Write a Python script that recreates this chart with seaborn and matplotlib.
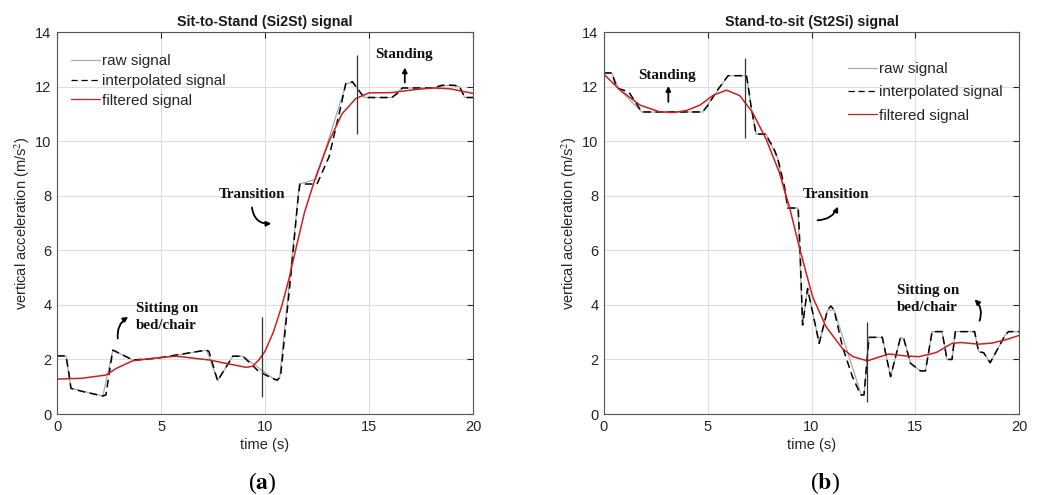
import numpy as np
import pandas as pd
import matplotlib
matplotlib.use("Agg")
import matplotlib.pyplot as plt
import seaborn as sns

# ---- (a) sit-to-stand ----
a_t_raw = [0, 0.43, 0.67, 2.2, 2.68, 3.64, 4.76, 7.2, 7.72, 8.45, 8.93, 10.5, 10.7, 11.65, 12.45,
           13.9, 14.2, 14.8, 16.1, 16.6, 18.1, 18.8, 19.35, 19.6, 20]
a_v_raw = [2.13, 2.13, 0.94, 0.66, 2.34, 1.98, 2.04, 2.34, 1.22, 2.12, 2.12, 1.24, 1.3, 8.43, 8.6,
           12.11, 12.15, 11.6, 11.6, 11.95, 11.95, 12.05, 12.0, 11.6, 11.6]

a_t_int = [0, 0.43, 0.55, 0.67, 1.2, 2.2, 2.35, 2.68, 2.8, 3.64, 4.76, 7.15, 7.3, 7.72, 8.45, 8.93,
           9.71, 10.35, 10.59, 10.75, 11.0, 11.23, 11.6, 11.68, 12.5, 13.08, 13.64, 13.88, 14.2,
           14.68, 14.9, 16.1, 16.44, 16.6, 18.1, 18.5, 19.1, 19.35, 19.6, 20]
a_v_int = [2.13, 2.13, 1.6, 0.94, 0.83, 0.66, 0.7, 2.34, 2.3, 1.98, 2.04, 2.34, 2.3, 1.22, 2.12, 2.12,
           1.55, 1.31, 1.24, 1.4, 3.3, 5.0, 8.0, 8.43, 8.43, 9.43, 11.26, 12.11, 12.18,
           11.68, 11.6, 11.6, 11.8, 11.95, 11.95, 12.05, 12.05, 12.0, 11.6, 11.6]

a_t_filt = [0, 1.2, 2.36, 2.84, 3.64, 4.7, 5.72, 7.32, 8.3, 9.09, 9.4, 9.7, 10.0, 10.4, 10.8, 11.15,
            11.45, 11.9, 12.44, 13.08, 13.7, 14.36, 15.0, 16.1, 17.3, 18.1, 18.9, 20]
a_v_filt = [1.28, 1.31, 1.43, 1.67, 1.95, 2.05, 2.12, 1.98, 1.83, 1.71, 1.75, 1.98, 2.3, 3.0, 3.95, 4.95,
            5.95, 7.4, 8.7, 10.0, 11.0, 11.56, 11.77, 11.78, 11.9, 11.95, 11.92, 11.75]

a_mark_t = [9.84, 14.44]
a_mark_lo = [0.63, 10.25]
a_mark_hi = [3.55, 13.15]

# ---- (b) stand-to-sit ----
b_t_raw = [0, 0.38, 0.7, 1.82, 4.75, 5.98, 6.87, 7.09, 7.33, 7.81, 8.37, 8.86, 9.34, 9.57, 9.81,
           10.37, 10.77, 11.09, 12.4, 12.53, 12.77, 13.41, 13.81, 14.29, 14.45, 14.77, 15.25, 15.49,
           15.81, 16.29, 16.53, 16.77, 16.93, 17.86, 18.05, 18.29, 18.61, 19.33, 19.49, 20]
b_v_raw = [12.5, 12.5, 11.93, 11.07, 11.07, 12.4, 12.4, 11.26, 10.26, 10.26, 9.37, 7.55, 7.55, 3.26, 4.6,
           2.59, 3.81, 3.81, 0.7, 0.7, 2.81, 2.81, 1.37, 2.81, 2.75, 1.86, 1.58, 1.58,
           3.02, 3.02, 2.0, 2.0, 3.02, 3.02, 2.28, 2.25, 1.88, 2.89, 3.02, 3.02]

b_t_int = [0, 0.38, 0.55, 0.7, 0.94, 1.2, 1.82, 4.75, 5.0, 5.4, 5.98, 6.87, 6.95, 7.09, 7.33, 7.81,
           7.97, 8.15, 8.37, 8.7, 8.86, 9.36, 9.45, 9.57, 9.81, 10.37, 10.77, 10.93, 11.09, 11.49,
           11.97, 12.37, 12.53, 12.77, 13.41, 13.81, 14.29, 14.45, 14.77, 15.25, 15.49, 15.81,
           16.29, 16.53, 16.77, 16.93, 17.86, 18.05, 18.29, 18.61, 19.33, 19.49, 20]
b_v_int = [12.5, 12.5, 12.1, 11.93, 11.87, 11.8, 11.07, 11.07, 11.3, 11.8, 12.4, 12.4, 12.0, 11.26, 10.26, 10.26,
           10.0, 9.8, 9.37, 8.33, 7.55, 7.55, 6.0, 3.26, 4.6, 2.59, 3.81, 3.96, 3.81, 2.47,
           1.37, 0.7, 0.7, 2.81, 2.81, 1.37, 2.81, 2.75, 1.86, 1.58, 1.58, 3.02,
           3.02, 2.0, 2.0, 3.02, 3.02, 2.28, 2.25, 1.88, 2.89, 3.02, 3.02]

b_t_filt = [0, 0.78, 1.74, 2.66, 3.34, 3.97, 4.62, 5.26, 5.9, 6.54, 7.16, 7.81, 8.45, 8.95, 9.4, 10.05,
            10.7, 11.49, 12.0, 12.69, 13.1, 13.73, 14.5, 15.17, 16.0, 16.77, 17.2, 18.05, 18.7, 19.4, 20]
b_v_filt = [12.45, 11.87, 11.32, 11.08, 11.05, 11.12, 11.32, 11.68, 11.87, 11.67, 11.05, 10.08, 8.85, 7.55,
            6.15, 4.3, 3.2, 2.4, 2.1, 1.95, 2.05, 2.2, 2.13, 2.1, 2.25, 2.59, 2.62, 2.56, 2.6, 2.73, 2.88]

b_mark_t = [6.81, 12.69]
b_mark_lo = [10.13, 0.45]
b_mark_hi = [13.05, 3.38]

titles = ["Sit-to-Stand (Si2St) signal", "Stand-to-sit (St2Si) signal"]
panel_labels = ["a", "b"]
x_ticks = [0, 5, 10, 15, 20]
y_ticks = [0, 2, 4, 6, 8, 10, 12, 14]

sns.set_style("white")
plt.rcParams["font.family"] = ["Liberation Sans", "DejaVu Sans"]
plt.rcParams["mathtext.fontset"] = "stix"

ink = "#262626"
fig = plt.figure(figsize=(10.41, 4.95), dpi=100)
ax_a = fig.add_axes([0.0548, 0.1636, 0.3996, 0.7717])
ax_b = fig.add_axes([0.5802, 0.1636, 0.3987, 0.7717])

panels = [
    (ax_a, a_t_raw, a_v_raw, a_t_int, a_v_int, a_t_filt, a_v_filt, a_mark_t, a_mark_lo, a_mark_hi),
    (ax_b, b_t_raw, b_v_raw, b_t_int, b_v_int, b_t_filt, b_v_filt, b_mark_t, b_mark_lo, b_mark_hi),
]
# legend anchor (axes fraction) and row spacing for each panel
leg_anchor = [(0.034, 0.942), (0.588, 0.921)]
leg_spacing = [0.38, 0.6]

for i, (ax, tr, vr, ti, vi, tf, vf, mt, mlo, mhi) in enumerate(panels):
    raw = pd.DataFrame({"t": tr, "v": vr})
    itp = pd.DataFrame({"t": ti, "v": vi})
    flt = pd.DataFrame({"t": tf, "v": vf})
    ax.grid(True, color="#dedede", lw=0.8)
    ax.set_axisbelow(True)
    sns.lineplot(data=raw, x="t", y="v", ax=ax, color="#a9a9a9", lw=0.9,
                 label="raw signal", estimator=None, sort=False)
    sns.lineplot(data=itp, x="t", y="v", ax=ax, color="black", lw=1.1, linestyle=(0, (5, 3)),
                 label="interpolated signal", estimator=None, sort=False)
    sns.lineplot(data=flt, x="t", y="v", ax=ax, color="#cc1f1f", lw=1.1,
                 label="filtered signal", estimator=None, sort=False)
    ax.vlines(mt, mlo, mhi, color="#333333", lw=0.9)

    ax.set_xlim(0, 20)
    ax.set_ylim(0, 14)
    ax.set_xticks(x_ticks)
    ax.set_yticks(y_ticks)
    ax.tick_params(direction="in", length=4, top=True, right=True, labelsize=10.5,
                   colors=ink, labelcolor=ink, pad=4, width=0.8)
    for s in ax.spines.values():
        s.set_color("#555555")
        s.set_linewidth(0.8)
    ax.set_xlabel("time (s)", fontsize=10.5, color=ink, labelpad=3)
    ax.set_ylabel("vertical acceleration (m/s$^2$)", fontsize=10.5, color=ink, labelpad=2)
    ax.set_title(titles[i], fontsize=10.3, fontweight="bold", color="#1a1a1a", pad=4)

    leg = ax.legend(loc="upper left", bbox_to_anchor=leg_anchor[i], frameon=False,
                    borderpad=0, borderaxespad=0, handlelength=1.9, handletextpad=0.1,
                    labelspacing=leg_spacing[i], fontsize=11)
    for txt in leg.get_texts():
        txt.set_color(ink)
    plt.setp(leg.get_lines(), lw=0.9)

ann = dict(family=["Liberation Serif", "DejaVu Serif"], fontweight="bold", fontsize=10.8, color="#111111")
arr = dict(arrowstyle="-|>", color="black", lw=1.3, mutation_scale=7, shrinkA=0, shrinkB=0)

# panel (a) annotations
ax_a.text(16.7, 13.17, "Standing", ha="center", va="center", **ann)
ax_a.annotate("", xy=(16.72, 12.7), xytext=(16.72, 12.15), arrowprops=arr)
ax_a.text(9.35, 8.03, "Transition", ha="center", va="center", **ann)
ax_a.annotate("", xy=(10.3, 6.98), xytext=(9.37, 7.57),
              arrowprops=dict(arr, connectionstyle="arc3,rad=0.45"))
ax_a.text(3.8, 3.55, "Sitting on\nbed/chair", ha="left", va="center", linespacing=1.4, **ann)
ax_a.annotate("", xy=(3.42, 3.56), xytext=(2.92, 2.77),
              arrowprops=dict(arr, connectionstyle="arc3,rad=-0.3"))

# panel (b) annotations
ax_b.text(3.02, 12.41, "Standing", ha="center", va="center", **ann)
ax_b.annotate("", xy=(3.1, 12.02), xytext=(3.1, 11.44), arrowprops=arr)
ax_b.text(11.2, 8.06, "Transition", ha="center", va="center", **ann)
ax_b.annotate("", xy=(11.28, 7.6), xytext=(10.29, 7.1),
              arrowprops=dict(arr, connectionstyle="arc3,rad=0.3"))
ax_b.text(14.13, 4.2, "Sitting on\nbed/chair", ha="left", va="center", linespacing=1.4, **ann)
ax_b.annotate("", xy=(17.86, 4.2), xytext=(18.1, 3.42),
              arrowprops=dict(arr, connectionstyle="arc3,rad=0.3"))

# panel letters
for x, lab in zip([0.252, 0.7925], panel_labels):
    fig.text(x, 0.024, "($\\mathbf{" + lab + "}$)", ha="center", va="center", fontsize=17,
             family=["Liberation Serif", "DejaVu Serif"], color="black")

fig.savefig("out.png", dpi=100)
